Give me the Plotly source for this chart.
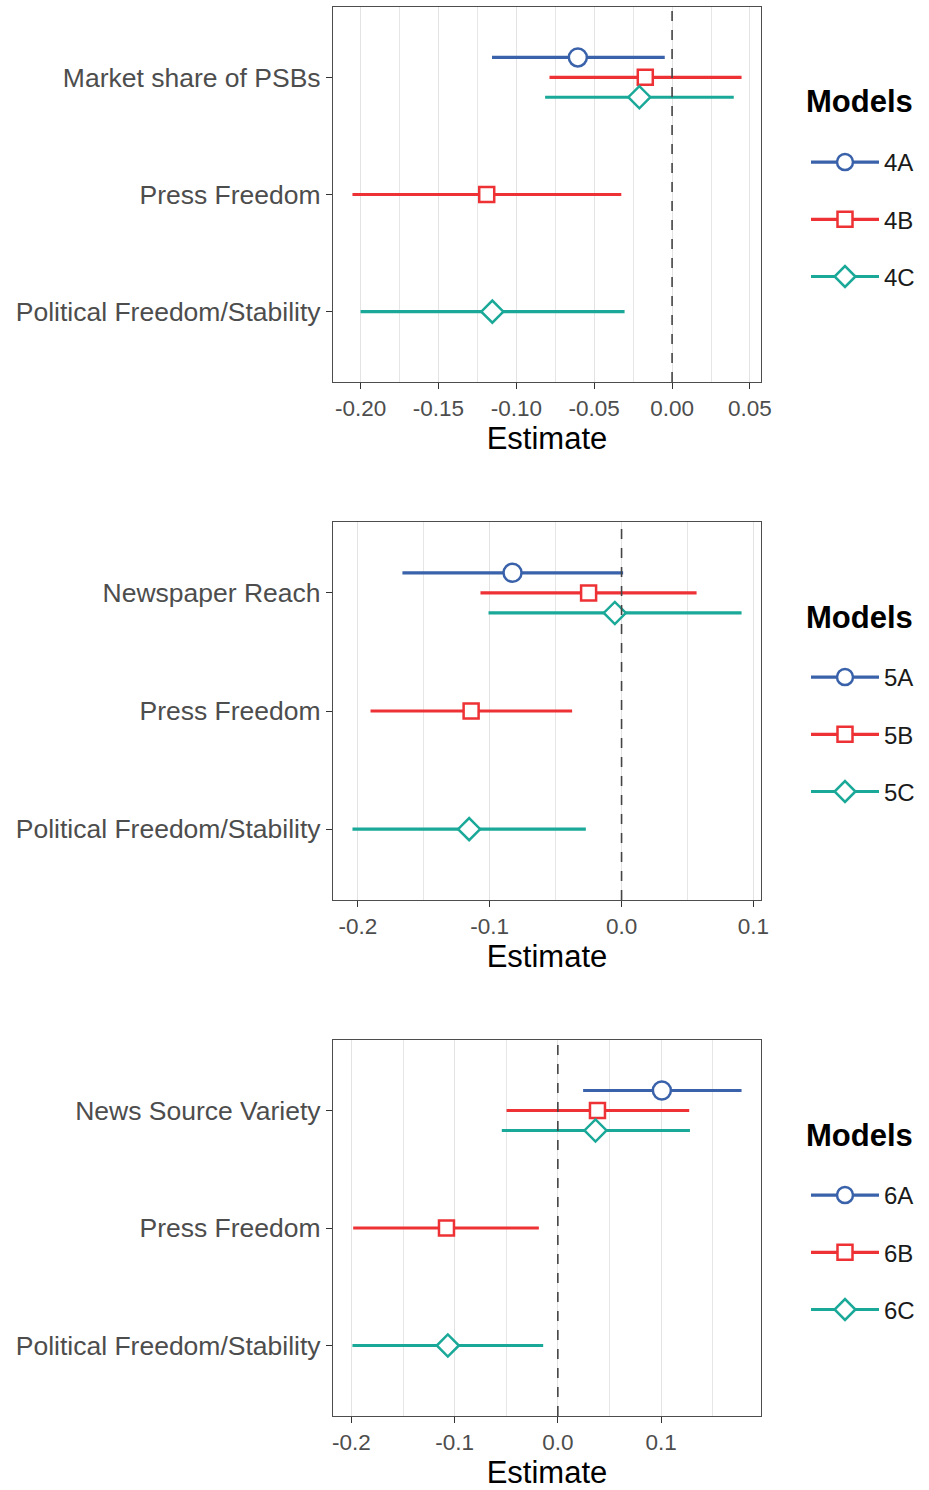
import plotly.graph_objects as go

# ---------------- data ----------------
# Panel 1 (models 4A-4C)
p1_terms = ["Market share of PSBs", "Press Freedom", "Political Freedom/Stability"]
p1_models = ["4A", "4B", "4C"]
p1_term = ["Market share of PSBs", "Market share of PSBs", "Market share of PSBs",
           "Press Freedom", "Political Freedom/Stability"]
p1_model = ["4A", "4B", "4C", "4B", "4C"]
p1_est = [-0.0605, -0.0172, -0.0210, -0.1190, -0.1154]
p1_lo = [-0.1156, -0.0787, -0.0815, -0.2052, -0.2000]
p1_hi = [-0.0047, 0.0446, 0.0396, -0.0326, -0.0305]
p1_xticks = [-0.20, -0.15, -0.10, -0.05, 0.00, 0.05]
p1_xticklabels = ["-0.20", "-0.15", "-0.10", "-0.05", "0.00", "0.05"]

# Panel 2 (models 5A-5C)
p2_terms = ["Newspaper Reach", "Press Freedom", "Political Freedom/Stability"]
p2_models = ["5A", "5B", "5C"]
p2_term = ["Newspaper Reach", "Newspaper Reach", "Newspaper Reach",
           "Press Freedom", "Political Freedom/Stability"]
p2_model = ["5A", "5B", "5C", "5B", "5C"]
p2_est = [-0.0827, -0.0250, -0.0051, -0.1141, -0.1156]
p2_lo = [-0.1662, -0.1070, -0.1009, -0.1904, -0.2041]
p2_hi = [0.0012, 0.0569, 0.0910, -0.0375, -0.0271]
p2_xticks = [-0.2, -0.1, 0.0, 0.1]
p2_xticklabels = ["-0.2", "-0.1", "0.0", "0.1"]

# Panel 3 (models 6A-6C)
p3_terms = ["News Source Variety", "Press Freedom", "Political Freedom/Stability"]
p3_models = ["6A", "6B", "6C"]
p3_term = ["News Source Variety", "News Source Variety", "News Source Variety",
           "Press Freedom", "Political Freedom/Stability"]
p3_model = ["6A", "6B", "6C", "6B", "6C"]
p3_est = [0.1008, 0.0384, 0.0365, -0.1079, -0.1066]
p3_lo = [0.0245, -0.0497, -0.0543, -0.1983, -0.1990]
p3_hi = [0.1780, 0.1273, 0.1280, -0.0184, -0.0142]
p3_xticks = [-0.2, -0.1, 0.0, 0.1]
p3_xticklabels = ["-0.2", "-0.1", "0.0", "0.1"]

x_title = "Estimate"
legend_title = "Models"

# ---------------- style ----------------
W, H = 929, 1490
FONT = "Liberation Sans, Arial, Helvetica, sans-serif"
COLORS = ["#3A62AA", "#EE3134", "#1AA898"]
SYMBOLS = ["circle", "square", "diamond"]
MSIZE = [18, 15, 17]
DODGE = 0.17

panels = [
    dict(terms=p1_terms, models=p1_models, term=p1_term, model=p1_model,
         est=p1_est, lo=p1_lo, hi=p1_hi, ticks=p1_xticks, labels=p1_xticklabels,
         minor=0.025, top=7, bottom=382),
    dict(terms=p2_terms, models=p2_models, term=p2_term, model=p2_model,
         est=p2_est, lo=p2_lo, hi=p2_hi, ticks=p2_xticks, labels=p2_xticklabels,
         minor=0.05, top=522, bottom=900),
    dict(terms=p3_terms, models=p3_models, term=p3_term, model=p3_model,
         est=p3_est, lo=p3_lo, hi=p3_hi, ticks=p3_xticks, labels=p3_xticklabels,
         minor=0.05, top=1040, bottom=1416),
]
X0, X1 = 333, 761

fig = go.Figure()
layout = {}
shapes = []
annotations = []

for k, p in enumerate(panels, start=1):
    xa = "x" if k == 1 else f"x{k}"
    ya = "y" if k == 1 else f"y{k}"
    lg = "legend" if k == 1 else f"legend{k}"

    # dodge positions
    pos = []
    for i, (t, m) in enumerate(zip(p["term"], p["model"])):
        same = [mm for tt, mm in zip(p["term"], p["model"]) if tt == t]
        n = len(same)
        j = same.index(m)
        pos.append(p["terms"].index(t) + 1 + (j - (n - 1) / 2) * DODGE)

    line_traces, marker_traces, legend_traces = [], [], []
    for mi, m in enumerate(p["models"]):
        idx = [i for i, mm in enumerate(p["model"]) if mm == m]
        lx, ly = [], []
        for i in idx:
            lx += [p["lo"][i], p["hi"][i], None]
            ly += [pos[i], pos[i], None]
        line_traces.append(go.Scatter(
            x=lx, y=ly, mode="lines", line=dict(color=COLORS[mi], width=3.2),
            showlegend=False, hoverinfo="skip", xaxis=xa, yaxis=ya))
        mk = dict(symbol=SYMBOLS[mi], size=MSIZE[mi], color="white",
                  line=dict(color=COLORS[mi], width=2.5))
        marker_traces.append(go.Scatter(
            x=[p["est"][i] for i in idx], y=[pos[i] for i in idx], mode="markers",
            marker=mk, showlegend=False, name=m, xaxis=xa, yaxis=ya))
        legend_traces.append(go.Scatter(
            x=[None], y=[None], mode="lines+markers", name=m,
            line=dict(color=COLORS[mi], width=3.2), marker=mk,
            legend=lg, legendgroup=f"{k}{m}", showlegend=True, xaxis=xa, yaxis=ya))
    for tr in line_traces + marker_traces + legend_traces:
        fig.add_trace(tr)

    allv = p["lo"] + p["hi"]
    lo, hi = min(allv), max(allv)
    pad = (hi - lo) * 0.05
    ydom = [(H - p["bottom"]) / H, (H - p["top"]) / H]

    layout[("xaxis" if k == 1 else f"xaxis{k}")] = dict(
        domain=[X0 / W, X1 / W], anchor=ya, range=[lo - pad, hi + pad],
        tickmode="array", tickvals=p["ticks"], ticktext=p["labels"],
        ticks="outside", ticklen=6, tickwidth=1.1, tickcolor="#333333",
        tickfont=dict(size=22.5, color="#4D4D4D", family=FONT),
        showgrid=True, gridcolor="#E3E3E3", gridwidth=1.4,
        minor=dict(tickmode="linear", tick0=0, dtick=p["minor"], showgrid=True,
                   gridcolor="#E6E6E6", gridwidth=1.2, ticks=""),
        zeroline=False, showline=True, mirror=True, linecolor="#4D4D4D", linewidth=1.2,
        title=dict(text=x_title, font=dict(size=31, color="black", family=FONT), standoff=6),
        automargin=False, fixedrange=True)
    layout[("yaxis" if k == 1 else f"yaxis{k}")] = dict(
        domain=ydom, anchor=xa, range=[3.6, 0.4],
        tickmode="array", tickvals=[1, 2, 3], ticktext=p["terms"],
        ticks="outside", ticklen=6, tickwidth=1.1, tickcolor="#333333",
        tickfont=dict(size=26.5, color="#4D4D4D", family=FONT),
        showgrid=False, zeroline=False, showline=True, mirror=True,
        linecolor="#4D4D4D", linewidth=1.2, automargin=False, fixedrange=True)

    shapes.append(dict(type="line", xref=xa, yref=f"{ya} domain", x0=0, x1=0, y0=0, y1=1,
                       line=dict(color="#444444", width=1.6, dash="10px,9px"), layer="above"))

    # legend title as text, legend items below it
    annotations.append(dict(
        text=f"<b>{legend_title}</b>", xref="paper", yref="paper",
        x=804 / W, xanchor="left", y=(H - (p["top"] + 95)) / H, yanchor="middle",
        showarrow=False, font=dict(size=31, color="black", family=FONT)))
    ltop = p["top"] + 133
    layout[lg] = dict(
        x=806 / W, xanchor="left", y=(H - ltop) / H, yanchor="top",
        font=dict(size=24, color="#1A1A1A", family=FONT),
        itemwidth=68, tracegroupgap=23, bgcolor="rgba(0,0,0,0)", borderwidth=0,
        itemclick=False, itemdoubleclick=False)

fig.update_layout(
    width=W, height=H, margin=dict(l=0, r=0, t=0, b=0),
    paper_bgcolor="white", plot_bgcolor="white", template="none",
    font=dict(family=FONT), shapes=shapes, annotations=annotations,
    showlegend=True, **layout)

fig.write_html(
    "out.html",
    config={"displayModeBar": False},
    post_script="document.body.style.margin='0px';"
                "document.documentElement.style.overflow='hidden';")
